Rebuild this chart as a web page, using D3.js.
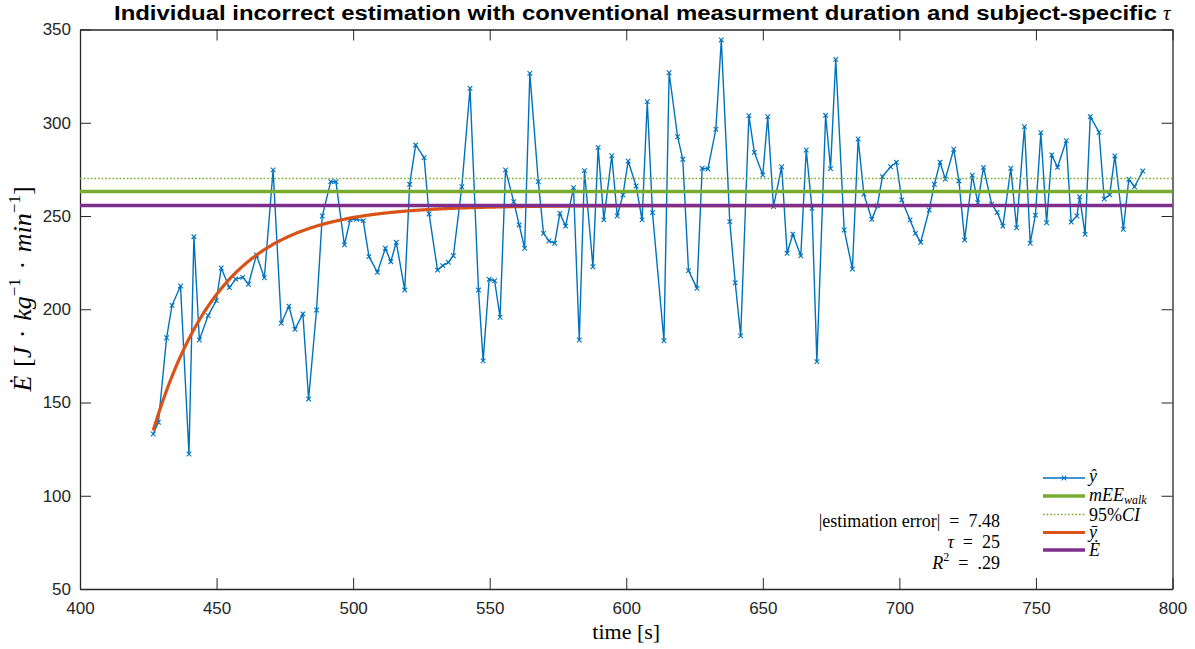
<!DOCTYPE html>
<html>
<head>
<meta charset="utf-8">
<script src="https://cdn.jsdelivr.net/npm/d3@7"></script>
<style>
  html, body { margin: 0; padding: 0; background: #fff; }
  svg { display: block; }
  .tick text { font-family: "Liberation Sans", Arial, sans-serif; font-size: 17px; fill: #262626; }
  .math { font-family: "Liberation Serif", "DejaVu Serif", serif; fill: #000; }
</style>
</head>
<body>
<svg id="chart" width="1195" height="649"></svg>
<script>
// Breath-by-breath time stamps [s]
const timeSec = [
  426.8, 428.7, 431.7, 433.7, 436.8, 439.9, 441.7, 443.7, 446.9, 449.9,
  451.7, 454.7, 457.0, 459.6, 461.7, 464.6, 467.5, 470.7, 473.7, 476.5,
  478.7, 481.6, 483.7, 486.6, 488.7, 491.8, 493.7, 496.8, 498.9, 501.3,
  503.7, 505.8, 508.9, 511.8, 513.8, 515.8, 518.9, 520.7, 522.9, 526.0,
  527.8, 530.9, 532.8, 534.9, 536.7, 539.8, 542.8, 545.9, 547.6, 549.8,
  551.8, 553.8, 555.8, 558.8, 560.8, 562.8, 564.7, 567.8, 569.7, 571.7,
  573.8, 575.7, 577.8, 580.7, 582.8, 584.7, 587.8, 589.7, 591.8, 594.7,
  596.7, 598.8, 600.7, 603.6, 605.8, 607.7, 609.6, 613.8, 615.7, 618.8,
  620.7, 622.8, 625.9, 627.8, 629.9, 632.8, 634.8, 637.9, 639.9, 641.9,
  644.9, 646.9, 650.0, 651.8, 653.9, 656.9, 658.9, 661.0, 663.9, 665.9,
  668.0, 669.8, 673.0, 674.8, 676.7, 679.8, 682.8, 684.9, 687.0, 689.9,
  691.9, 693.8, 696.8, 698.9, 700.9, 703.9, 705.9, 707.8, 710.9, 712.8,
  714.9, 716.8, 719.9, 721.8, 723.9, 726.7, 728.7, 730.8, 733.8, 735.8,
  737.9, 740.8, 742.9, 745.8, 747.9, 749.8, 751.8, 753.9, 755.8, 757.9,
  761.1, 762.9, 765.0, 766.0, 768.0, 769.9, 773.1, 775.0, 777.0, 778.9,
  782.0, 784.0, 786.1, 789.1
];

// Measured energy expenditure per breath [J/kg/min]
const yHat = [
  133.1, 139.4, 184.7, 202.1, 212.5, 122.4, 238.9, 183.5, 196.6, 204.6,
  222.1, 211.6, 216.2, 217.1, 213.4, 229.1, 216.9, 274.7, 192.5, 201.7,
  189.2, 197.5, 151.9, 199.6, 250.0, 268.4, 268.4, 234.5, 247.9, 248.2,
  247.5, 228.2, 219.8, 232.7, 225.5, 235.9, 210.3, 267.0, 288.1, 281.3,
  251.1, 221.0, 223.4, 225.2, 228.7, 265.7, 318.5, 210.3, 172.3, 216.1,
  215.3, 195.7, 274.7, 257.7, 245.2, 232.7, 326.5, 268.4, 240.7, 236.6,
  235.4, 251.4, 244.6, 265.2, 183.5, 274.3, 222.8, 286.8, 247.9, 282.3,
  250.0, 261.3, 279.5, 266.1, 247.9, 311.3, 251.8, 183.1, 326.8, 292.5,
  280.4, 220.7, 211.2, 275.6, 275.2, 296.5, 344.4, 247.0, 214.2, 185.7,
  303.8, 284.1, 272.0, 303.3, 255.0, 276.4, 230.0, 240.3, 228.6, 285.4,
  254.1, 171.9, 304.0, 275.4, 334.0, 242.5, 221.6, 291.3, 261.8, 248.2,
  255.4, 271.1, 276.4, 278.8, 258.6, 247.9, 240.7, 235.9, 253.2, 267.0,
  278.8, 269.8, 285.8, 268.8, 237.1, 271.9, 257.1, 276.1, 256.3, 251.9,
  244.6, 275.6, 243.7, 297.9, 235.4, 250.5, 294.7, 246.4, 282.7, 276.1,
  290.4, 246.8, 250.0, 260.3, 240.2, 303.3, 294.9, 259.1, 261.3, 282.2,
  242.9, 269.7, 265.7, 274.1
];

// Reference levels and fit parameters
const mEEwalk = 263.1;          // mean EE during walking
const estimationError = 7.48;   // |mEE_walk - Ė|
const eDot = mEEwalk - estimationError;
const ciUpper = 270.1;          // 95% CI bound
const tau = 25;                 // time constant of the mono-exponential fit
const fitStart = 135.0;         // fitted value at the first breath
const rSquared = ".29";

const xTicks = [400, 450, 500, 550, 600, 650, 700, 750, 800];
const yTicks = [50, 100, 150, 200, 250, 300, 350];

const colors = { yhat: "#0072BD", mee: "#77AC30", ci: "#77AC30", fit: "#D95319", edot: "#7E2F8E" };

const svg = d3.select("#chart");
const L = 80, R = 1172.5, T = 29.5, B = 589;

const x = d3.scaleLinear().domain([400, 800]).range([L, R]);
const y = d3.scaleLinear().domain([50, 350]).range([B, T]);

// Axes (box on, ticks pointing inward)
const axisColor = "#262626";
function styleAxis(g) {
  g.select(".domain").attr("stroke", axisColor).attr("stroke-width", 1.3);
  g.selectAll(".tick line").attr("stroke", axisColor).attr("stroke-width", 1);
}
svg.append("g").attr("transform", `translate(0,${B})`)
  .call(d3.axisBottom(x).tickValues(xTicks).tickFormat(d3.format("d")).tickSizeInner(-11).tickSizeOuter(0).tickPadding(13))
  .call(styleAxis);
svg.append("g").attr("transform", `translate(0,${T})`)
  .call(d3.axisTop(x).tickValues(xTicks).tickFormat("").tickSizeInner(-11).tickSizeOuter(0))
  .call(styleAxis);
svg.append("g").attr("transform", `translate(${L},0)`)
  .call(d3.axisLeft(y).tickValues(yTicks).tickFormat(d3.format("d")).tickSizeInner(-11).tickSizeOuter(0).tickPadding(9))
  .call(styleAxis);
svg.append("g").attr("transform", `translate(${R},0)`)
  .call(d3.axisRight(y).tickValues(yTicks).tickFormat("").tickSizeInner(-11).tickSizeOuter(0))
  .call(styleAxis);
svg.selectAll(".tick text").attr("font-family", null).attr("font-size", null);

const plot = svg.append("g");
const pts = timeSec.map((t, i) => [t, yHat[i]]);

// Measured series with x markers
plot.append("path")
  .attr("d", d3.line().x(d => x(d[0])).y(d => y(d[1]))(pts))
  .attr("fill", "none").attr("stroke", colors.yhat).attr("stroke-width", 1.4);
const mk = 2.3;
const cross = (cx, cy) => `M${cx-mk},${cy-mk}L${cx+mk},${cy+mk}M${cx-mk},${cy+mk}L${cx+mk},${cy-mk}`;
plot.append("g").selectAll("path").data(pts).join("path")
  .attr("d", d => cross(x(d[0]), y(d[1])))
  .attr("stroke", colors.yhat).attr("stroke-width", 1.1);

// Horizontal reference lines
function hline(v, color, width, dash) {
  const p = plot.append("line")
    .attr("x1", L).attr("x2", R)
    .attr("y1", y(v)).attr("y2", y(v))
    .attr("stroke", color).attr("stroke-width", width);
  if (dash) p.attr("stroke-dasharray", dash);
  return p;
}
hline(mEEwalk, colors.mee, 3.5);
hline(ciUpper, colors.ci, 1.3, "1.6,2");

// Mono-exponential fit with time constant tau, levelling off at Ė
const t0 = timeSec[0], tEnd = timeSec[timeSec.length - 1];
const fitPts = d3.range(t0, tEnd + 0.5, 0.5).map(t => [t, eDot - (eDot - fitStart) * Math.exp(-(t - t0) / tau)]);
plot.append("path")
  .attr("d", d3.line().x(d => x(d[0])).y(d => y(d[1]))(fitPts))
  .attr("fill", "none").attr("stroke", colors.fit).attr("stroke-width", 3.2);

hline(eDot, colors.edot, 3.5);

// Title
const title = svg.append("g");
title.append("text")
  .attr("x", 114).attr("y", 20)
  .attr("font-family", "Liberation Sans, Arial, sans-serif").attr("font-weight", "bold").attr("font-size", 20)
  .attr("textLength", 1043).attr("lengthAdjust", "spacingAndGlyphs")
  .text("Individual incorrect estimation with conventional measurment duration and subject-specific");
title.append("text").attr("class", "math")
  .attr("x", 1163).attr("y", 20).attr("font-size", 21).attr("font-style", "italic").text("τ");

// Axis labels
svg.append("text").attr("class", "math")
  .attr("x", (L + R) / 2).attr("y", 639).attr("text-anchor", "middle").attr("font-size", 22)
  .text("time [s]");

const sp = "\u2004";
const yl = svg.append("text").attr("class", "math")
  .attr("transform", "translate(31,289) rotate(-90)")
  .attr("text-anchor", "middle").attr("font-size", 26);
yl.append("tspan").attr("font-style", "italic").text("Ė");
yl.append("tspan").text(sp + "[");
yl.append("tspan").attr("font-style", "italic").text("J");
yl.append("tspan").text(sp + "·" + sp);
yl.append("tspan").attr("font-style", "italic").text("kg");
yl.append("tspan").attr("font-size", 17).attr("dy", -11).text("−1");
yl.append("tspan").attr("dy", 11).text(sp + "·" + sp);
yl.append("tspan").attr("font-style", "italic").text("min");
yl.append("tspan").attr("font-size", 17).attr("dy", -11).text("−1");
yl.append("tspan").attr("dy", 11).text("]");

// Fit statistics
const eq = "\u2002=\u2002";
const stats = svg.append("g").attr("class", "math").attr("font-size", 18).attr("text-anchor", "end");
stats.append("text").attr("x", 1000).attr("y", 527).text(`|estimation error|${eq}${estimationError}`);
const tl = stats.append("text").attr("x", 1000).attr("y", 548);
tl.append("tspan").attr("font-style", "italic").text("τ");
tl.append("tspan").text(`${eq}${tau}`);
const rl = stats.append("text").attr("x", 1000).attr("y", 569);
rl.append("tspan").attr("font-style", "italic").text("R");
rl.append("tspan").attr("font-size", 12).attr("dy", -8).text("2");
rl.append("tspan").attr("dy", 8).text(`${eq}${rSquared}`);

// Legend
const legend = svg.append("g");
const lx1 = 1043, lx2 = 1085, ltx = 1089;
const rows = [
  { y: 478, color: colors.yhat, w: 1.4, marker: true },
  { y: 496, color: colors.mee, w: 3.5 },
  { y: 514.5, color: colors.ci, w: 1.3, dash: "1.6,2" },
  { y: 532.5, color: colors.fit, w: 3.2 },
  { y: 550, color: colors.edot, w: 3.5 }
];
rows.forEach(r => {
  const ln = legend.append("line").attr("x1", lx1).attr("x2", lx2).attr("y1", r.y).attr("y2", r.y)
    .attr("stroke", r.color).attr("stroke-width", r.w);
  if (r.dash) ln.attr("stroke-dasharray", r.dash);
  if (r.marker) {
    legend.append("path").attr("d", cross((lx1 + lx2) / 2, r.y))
      .attr("stroke", r.color).attr("stroke-width", 1.1);
  }
});
const lt = legend.append("g").attr("class", "math").attr("font-size", 18);
lt.append("text").attr("x", ltx).attr("y", rows[0].y + 4).attr("font-style", "italic").text("ŷ");
const m = lt.append("text").attr("x", ltx).attr("y", rows[1].y + 5).attr("font-style", "italic");
m.append("tspan").text("mEE");
m.append("tspan").attr("font-size", 12).attr("dy", 2.5).text("walk");
const ci = lt.append("text").attr("x", ltx).attr("y", rows[2].y + 6);
ci.append("tspan").text("95%");
ci.append("tspan").attr("font-style", "italic").text("CI");
lt.append("text").attr("x", ltx).attr("y", rows[3].y + 5).attr("font-style", "italic").text("ȳ");
lt.append("text").attr("x", ltx).attr("y", rows[4].y + 6).attr("font-style", "italic").text("Ė");
</script>
</body>
</html>
